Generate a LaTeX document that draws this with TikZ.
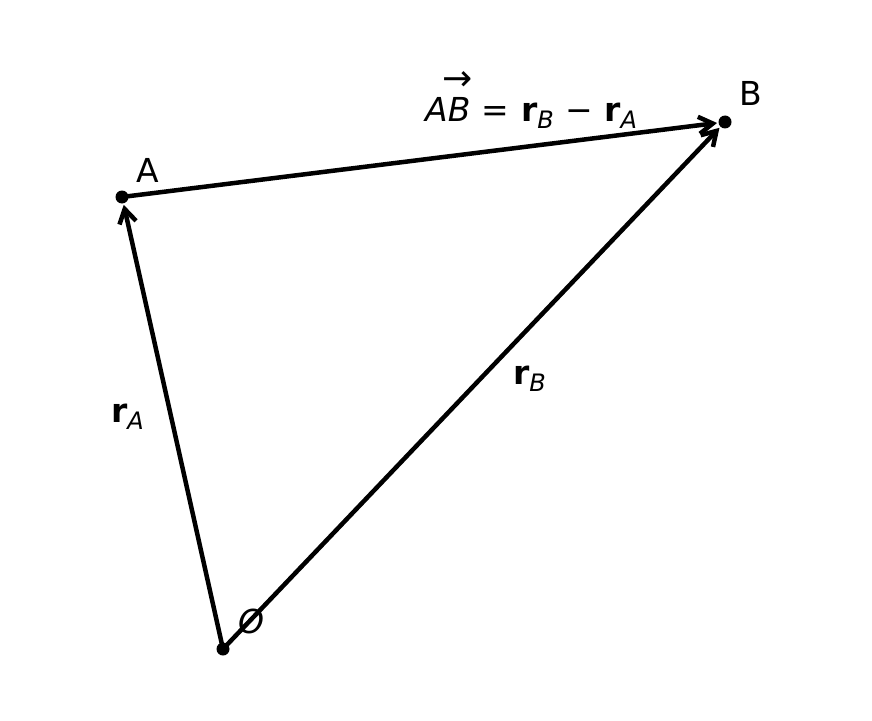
\documentclass[tikz,border=0pt]{standalone}
\usepackage{fontspec}
\setmainfont{DejaVu Sans}
\usetikzlibrary{arrows.meta}
\newcommand{\lblfont}{\fontsize{33bp}{38bp}\selectfont}
\newcommand{\subfont}{\fontsize{24bp}{28bp}\selectfont}
\newcommand{\mysub}[1]{\raisebox{-7bp}{\subfont\itshape #1}}
\newcommand{\bvec}[1]{{\bfseries #1}}
\newcommand{\opsp}{\hspace{11.5bp}}
\begin{document}
\begin{tikzpicture}[x=1bp,y=-1bp,
  vecline/.style={line width=4.5bp,-{Straight Barb[length=14bp,width=17bp,line width=4.5bp]}},
  pt/.style={circle,fill=black,inner sep=0pt,minimum size=13bp},
  lbl/.style={anchor=base west,inner sep=0pt,font=\lblfont}]
\useasboundingbox (0,0) rectangle (872,721);
\node[pt] (O) at (223,649) {};
\node[pt] (A) at (122,197) {};
\node[pt] (B) at (725,122) {};
\draw[vecline,shorten >=8bp] (O.center) -- (A.center);
\draw[vecline,shorten >=8bp] (O.center) -- (B.center);
\draw[vecline,shorten >=8bp] (A.center) -- (B.center);
\node[lbl] (lA) at (136,182) {A};
\node[lbl] (lB) at (739,106) {B};
\node[lbl] (lO) at (238,633) {\itshape O};
\node[lbl] (lrA) at (111,422) {\bvec{r}\mysub{A}};
\node[lbl] (lrB) at (513,384) {\bvec{r}\mysub{B}};
\node[lbl] (lAB) at (425,122) {\itshape AB\upshape\opsp=\opsp\bvec{r}\mysub{B}\opsp−\opsp\bvec{r}\mysub{A}};
\node[inner sep=0pt,anchor=base,font=\fontsize{36bp}{40bp}\selectfont] (vecarr) at (458,91) {→};
\end{tikzpicture}
\end{document}
